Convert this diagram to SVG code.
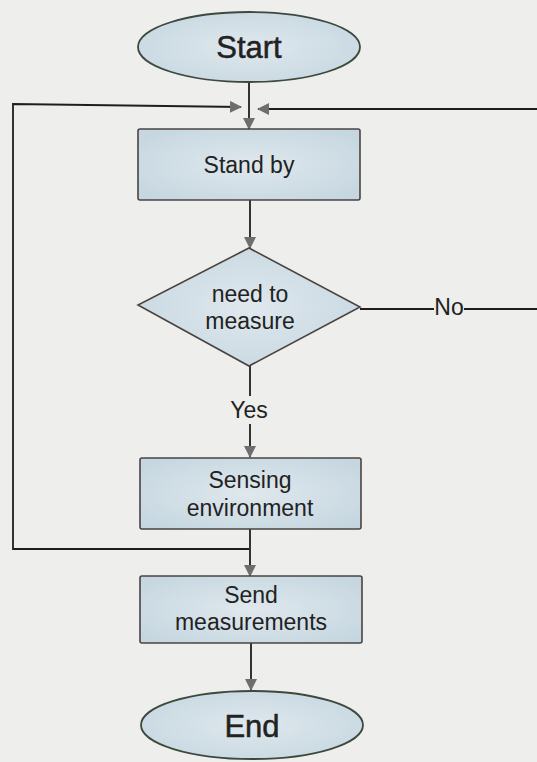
<svg xmlns="http://www.w3.org/2000/svg" width="537" height="762" viewBox="0 0 537 762">
  <defs>
    <radialGradient id="fillBlue" cx="50%" cy="50%" r="65%">
      <stop offset="0" stop-color="#dfe8ed"/>
      <stop offset="1" stop-color="#c5d6e0"/>
    </radialGradient>
    <marker id="arrow" viewBox="0 0 12 12" refX="11" refY="6" markerWidth="12" markerHeight="12" markerUnits="userSpaceOnUse" orient="auto">
      <path d="M0,0 L12,6 L0,12 Z" fill="#6e6e6e"/>
    </marker>
    <style>
      .bg { fill: #eeeeec; }
      .node { fill: url(#fillBlue); stroke: #4a4440; stroke-width: 1.6; }
      .term { fill: url(#fillBlue); stroke: #3c4a3c; stroke-width: 1.8; }
      .wire { fill: none; stroke: #1e1e1e; stroke-width: 1.8; }
      .lbl { font-family: "Liberation Sans", Arial, sans-serif; font-size: 23px; fill: #222; text-anchor: middle; }
      .big { font-size: 31px; stroke: #222; stroke-width: 0.5; }
    </style>
  </defs>

  <rect class="bg" x="0" y="0" width="537" height="762"/>

  <!-- connectors -->
  <g id="connectors">
    <line class="wire" x1="249" y1="82" x2="249" y2="129" marker-end="url(#arrow)"/>
    <polyline class="wire" points="249,549 13,549 13,104 241,107" marker-end="url(#arrow)"/>
    <polyline class="wire" points="360,309 540,309 540,109 258,109" marker-end="url(#arrow)"/>
    <line class="wire" x1="250" y1="200" x2="250" y2="248" marker-end="url(#arrow)"/>
    <line class="wire" x1="250" y1="366" x2="250" y2="396"/>
    <line class="wire" x1="250" y1="424" x2="250" y2="457" marker-end="url(#arrow)"/>
    <line class="wire" x1="250" y1="529" x2="250" y2="576" marker-end="url(#arrow)"/>
    <line class="wire" x1="251" y1="643" x2="251" y2="690" marker-end="url(#arrow)"/>
    <rect class="bg" x="434" y="296" width="30" height="26"/>
    <text class="lbl" x="449" y="315">No</text>
    <text class="lbl" x="249" y="418">Yes</text>
  </g>

  <g id="start">
    <ellipse class="term" cx="249" cy="47" rx="111" ry="35"/>
    <text class="lbl big" x="249" y="58">Start</text>
  </g>

  <g id="standby">
    <rect class="node" x="138" y="129" width="222" height="71" rx="2"/>
    <text class="lbl" x="249" y="173">Stand by</text>
  </g>

  <g id="decision">
    <polygon class="node" points="249,248 360,307 249,366 138,305"/>
    <text class="lbl" x="250" y="302">need to</text>
    <text class="lbl" x="250" y="329">measure</text>
  </g>

  <g id="sensing">
    <rect class="node" x="140" y="458" width="221" height="71" rx="2"/>
    <text class="lbl" x="250" y="488">Sensing</text>
    <text class="lbl" x="250" y="516">environment</text>
  </g>

  <g id="send">
    <rect class="node" x="140" y="576" width="222" height="67" rx="2"/>
    <text class="lbl" x="251" y="603">Send</text>
    <text class="lbl" x="251" y="630">measurements</text>
  </g>

  <g id="end">
    <ellipse class="term" cx="252" cy="725" rx="111" ry="34"/>
    <text class="lbl big" x="252" y="737">End</text>
  </g>
</svg>
